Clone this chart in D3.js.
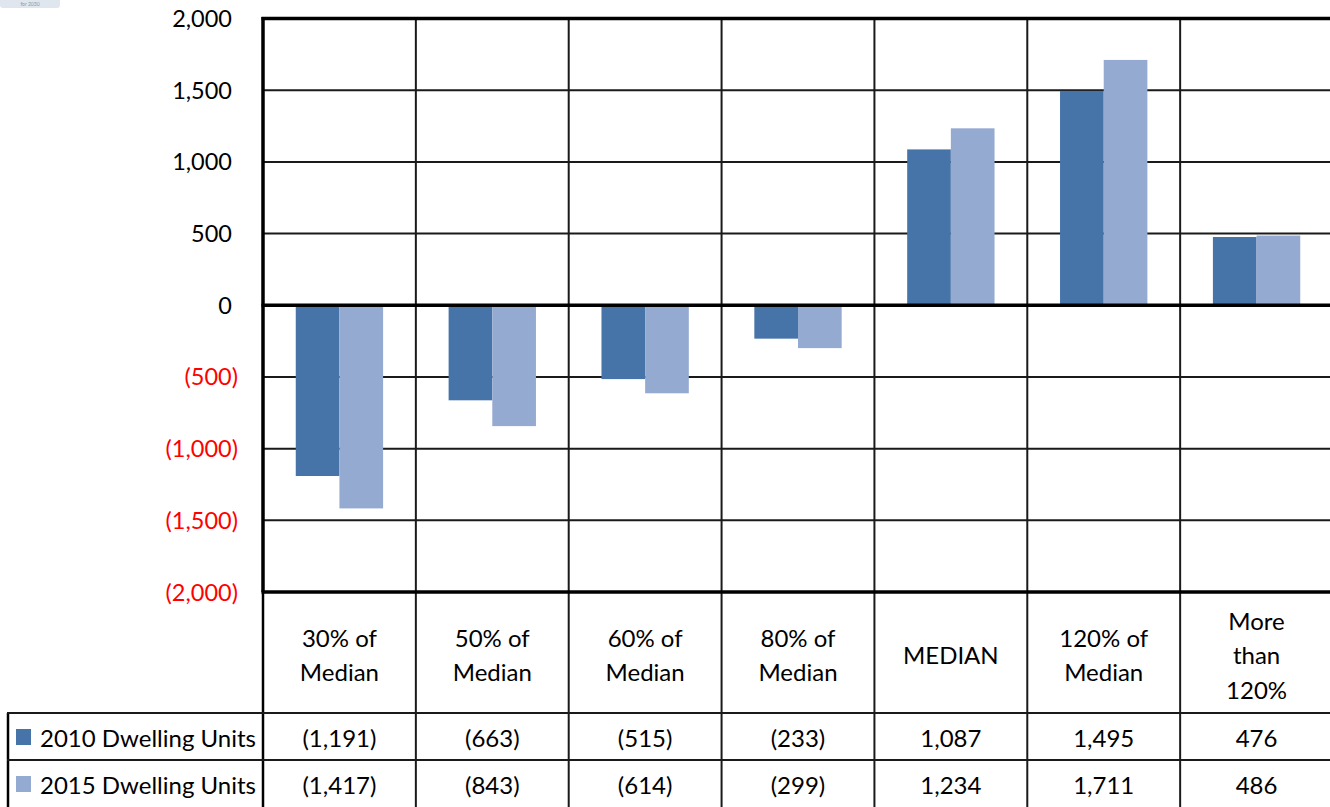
<!DOCTYPE html>
<html>
<head>
<meta charset="utf-8">
<script src="https://cdn.jsdelivr.net/npm/d3@7"></script>
<style>
  body { margin: 0; background: #fff; }
  svg { display: block; font-family: Lato, "Open Sans", sans-serif; }
</style>
</head>
<body>
<div id="chart"></div>
<script>
// categories (split into the lines shown in the table header)
const categories = ['30% of Median', '50% of Median', '60% of Median', '80% of Median', 'MEDIAN', '120% of Median', 'More than 120%'];
const categoryLines = [
  ['30% of', 'Median'],
  ['50% of', 'Median'],
  ['60% of', 'Median'],
  ['80% of', 'Median'],
  ['MEDIAN'],
  ['120% of', 'Median'],
  ['More', 'than', '120%'],
];
const seriesNames = ['2010 Dwelling Units', '2015 Dwelling Units'];
const units2010 = [-1191, -663, -515, -233, 1087, 1495, 476];
const units2015 = [-1417, -843, -614, -299, 1234, 1711, 486];
const yTicks = [2000, 1500, 1000, 500, 0, -500, -1000, -1500, -2000];

const colors = ['#4674a9', '#95aad1'];

const width = 1330;
const height = 807;

// plot area
const plot = { left: 263, right: 1333, top: 18.5, bottom: 592 };
// table rows below the plot
const table = { left: 8, headerBottom: 713, row1Bottom: 760, row2Bottom: 807 };

const svg = d3.select('#chart')
  .append('svg')
  .attr('width', width)
  .attr('height', height);

// little logo strip top-left
svg.append('rect')
  .attr('x', 0).attr('y', -4)
  .attr('width', 60).attr('height', 12)
  .attr('rx', 3)
  .attr('fill', '#dfe6ee');
svg.append('text')
  .attr('x', 30).attr('y', 5.5)
  .attr('text-anchor', 'middle')
  .attr('font-size', 5)
  .attr('fill', '#8a96a6')
  .text('for 2030');

const xScale = d3.scaleBand()
  .domain(categories)
  .range([plot.left, plot.right])
  .padding(0);

const xSub = d3.scaleBand()
  .domain(seriesNames)
  .range([0, xScale.bandwidth()])
  .paddingInner(0)
  .paddingOuter(0.75);

const yScale = d3.scaleLinear()
  .domain([-2000, 2000])
  .range([plot.bottom, plot.top]);

// horizontal gridlines
svg.append('g')
  .attr('class', 'gridlines')
  .selectAll('line')
  .data(yTicks.filter((d) => d !== 0 && d !== 2000 && d !== -2000))
  .join('line')
  .attr('x1', plot.left)
  .attr('x2', plot.right)
  .attr('y1', (d) => yScale(d))
  .attr('y2', (d) => yScale(d))
  .attr('stroke', '#1a1a1a')
  .attr('stroke-width', 2);

// vertical category separators, running through the table
svg.append('g')
  .selectAll('line')
  .data(categories.slice(1))
  .join('line')
  .attr('x1', (d) => xScale(d))
  .attr('x2', (d) => xScale(d))
  .attr('y1', plot.top)
  .attr('y2', height)
  .attr('stroke', '#1a1a1a')
  .attr('stroke-width', 2);

// bars
const rows = categories.map((c, i) => ({ cat: c, values: [units2010[i], units2015[i]] }));

svg.append('g')
  .selectAll('g')
  .data(rows)
  .join('g')
  .attr('transform', (d) => `translate(${xScale(d.cat)},0)`)
  .selectAll('rect')
  .data((d) => d.values.map((v, j) => ({ name: seriesNames[j], value: v, j })))
  .join('rect')
  .attr('x', (d) => xSub(d.name))
  .attr('width', xSub.bandwidth())
  .attr('y', (d) => yScale(Math.max(0, d.value)))
  .attr('height', (d) => Math.abs(yScale(d.value) - yScale(0)))
  .attr('fill', (d) => colors[d.j]);

// thick frame lines: top, zero, bottom, y axis
svg.append('g')
  .selectAll('line')
  .data([2000, 0, -2000])
  .join('line')
  .attr('x1', plot.left - 1.5)
  .attr('x2', plot.right)
  .attr('y1', (d) => yScale(d))
  .attr('y2', (d) => yScale(d))
  .attr('stroke', '#000')
  .attr('stroke-width', 3.5);

svg.append('line')
  .attr('x1', plot.left).attr('x2', plot.left)
  .attr('y1', plot.top - 1.5).attr('y2', plot.bottom)
  .attr('stroke', '#000')
  .attr('stroke-width', 3.5);

// y tick labels, accounting style
const fmt = d3.format(',');
const acct = (v) => (v < 0 ? `(${fmt(-v)})` : fmt(v));

svg.append('g')
  .selectAll('text')
  .data(yTicks)
  .join('text')
  .attr('x', (d) => (d < 0 ? 238 : 232))
  .attr('y', (d) => yScale(d) + 8.5)
  .attr('text-anchor', 'end')
  .attr('font-size', 23.5)
  .attr('fill', (d) => (d < 0 ? '#ff0000' : '#000'))
  .text(acct);

// table: lines
const tbl = svg.append('g').attr('class', 'table');

tbl.append('line')
  .attr('x1', plot.left).attr('x2', plot.left)
  .attr('y1', plot.bottom).attr('y2', height)
  .attr('stroke', '#000').attr('stroke-width', 2.5);

tbl.append('line')
  .attr('x1', table.left).attr('x2', table.left)
  .attr('y1', table.headerBottom).attr('y2', height)
  .attr('stroke', '#000').attr('stroke-width', 2.5);

tbl.selectAll('line.row')
  .data([table.headerBottom, table.row1Bottom])
  .join('line')
  .attr('class', 'row')
  .attr('x1', table.left - 1)
  .attr('x2', plot.right)
  .attr('y1', (d) => d)
  .attr('y2', (d) => d)
  .attr('stroke', '#1a1a1a')
  .attr('stroke-width', 2.2);

// table: category header labels
const headerMid = (plot.bottom + table.headerBottom) / 2;
const lineGap = 34.5;

tbl.selectAll('text.cat')
  .data(categories)
  .join('text')
  .attr('class', 'cat')
  .attr('text-anchor', 'middle')
  .attr('font-size', 24)
  .attr('fill', '#000')
  .each(function (d, i) {
    const lines = categoryLines[i];
    const x = xScale(d) + xScale.bandwidth() / 2;
    const y0 = headerMid - ((lines.length - 1) * lineGap) / 2 + 11.5;
    d3.select(this)
      .selectAll('tspan')
      .data(lines)
      .join('tspan')
      .attr('x', x)
      .attr('y', (l, k) => y0 + k * lineGap)
      .text((l) => l);
  });

// table: value rows with legend keys
const seriesValues = [units2010, units2015];
const rowMids = [
  (table.headerBottom + table.row1Bottom) / 2,
  (table.row1Bottom + table.row2Bottom) / 2,
];

seriesNames.forEach((name, j) => {
  const ym = rowMids[j];

  tbl.append('rect')
    .attr('x', 16)
    .attr('y', ym - 7.5)
    .attr('width', 15)
    .attr('height', 16)
    .attr('fill', colors[j]);

  tbl.append('text')
    .attr('x', 40)
    .attr('y', ym + 10)
    .attr('font-size', 24)
    .attr('fill', '#000')
    .text(name);

  tbl.append('g')
    .selectAll('text')
    .data(seriesValues[j])
    .join('text')
    .attr('x', (d, i) => xScale(categories[i]) + xScale.bandwidth() / 2)
    .attr('y', ym + 10)
    .attr('text-anchor', 'middle')
    .attr('font-size', 24)
    .attr('fill', '#000')
    .text(acct);
});
</script>
</body>
</html>
